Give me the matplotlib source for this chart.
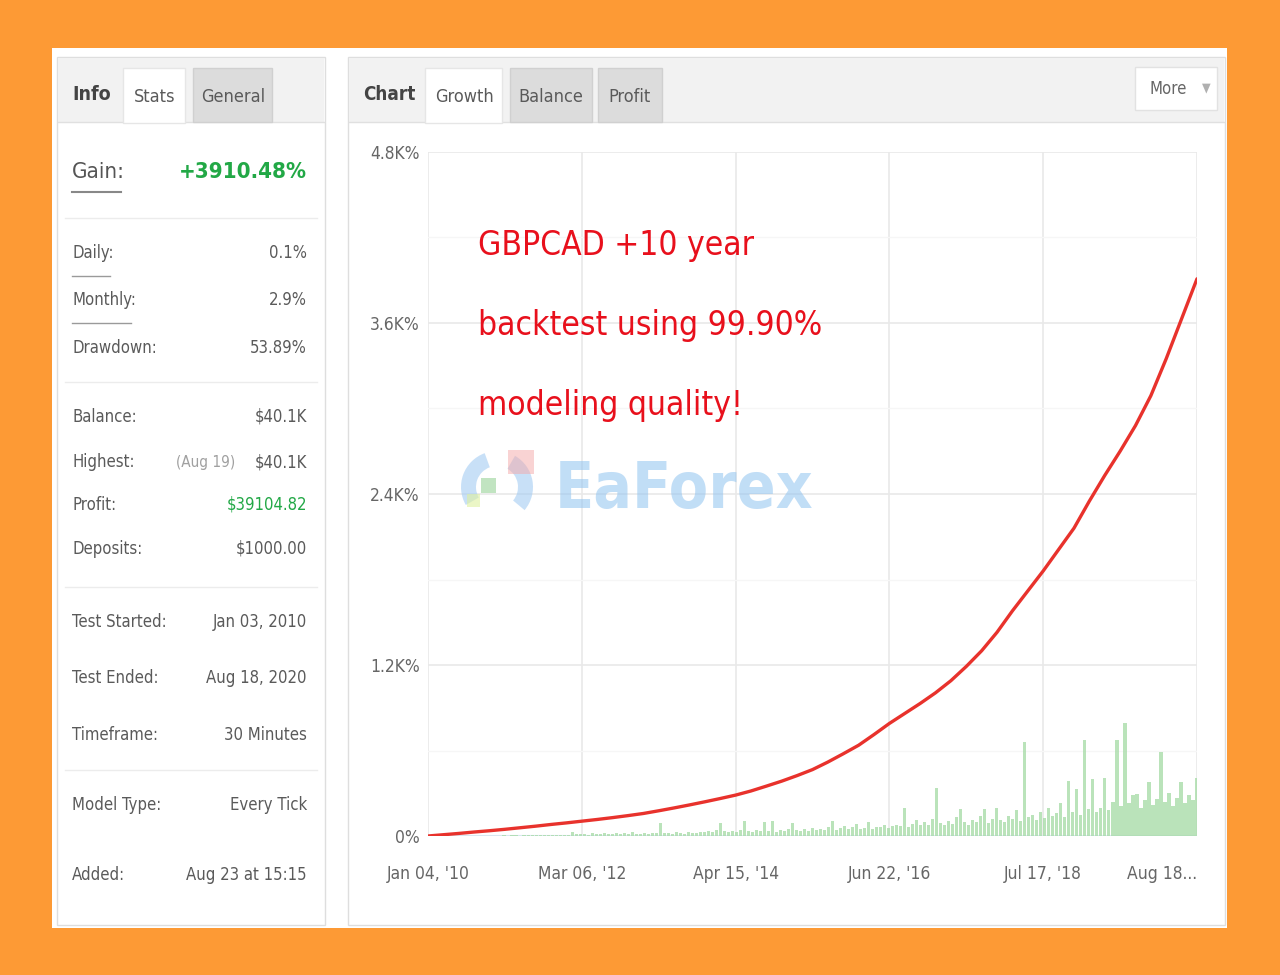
import matplotlib
matplotlib.use("Agg")
import matplotlib.pyplot as plt
import numpy as np
from matplotlib.patches import Rectangle, Wedge

plt.rcParams['font.family'] = ['DejaVu Sans']
plt.rcParams['font.stretch'] = 'condensed'

# data
date_labels = ["Jan 04, '10", "Mar 06, '12", "Apr 15, '14", "Jun 22, '16", "Jul 17, '18", "Aug 18..."]
y_ticks = [0, 1200, 2400, 3600, 4800]
y_labels = ["0%", "1.2K%", "2.4K%", "3.6K%", "4.8K%"]

# growth in %, sampled evenly from Jan 04 '10 to Aug 18 '20
growth = [0, 9, 18, 28, 37, 47, 58, 69, 81, 92,
          104, 116, 129, 143, 158, 177, 197, 218, 240, 263,
          287, 316, 350, 385, 424, 466, 519, 577, 637, 712,
          790, 860, 930, 1005, 1090, 1190, 1300, 1430, 1580, 1720,
          1860, 2010, 2160, 2350, 2530, 2700, 2880, 3090, 3350, 3630, 3910]

# daily profit bars (green), same scale
daily = [1, 1, 2, 1, 2, 1, 2, 2, 1, 2, 3, 2, 2, 3, 2,
         3, 4, 3, 5, 4, 3, 6, 4, 5, 8, 5, 4, 6, 5, 7, 6, 5, 9, 30, 12,
         12, 15, 10, 18, 14, 11, 20, 16, 13, 22, 15, 18, 12, 25, 17, 14, 20, 16, 22, 19,
         90, 18, 22, 15, 25, 20, 17, 28, 21, 24,
         30, 25, 35, 28, 40, 90, 32, 26, 38, 30, 45, 105, 35, 28, 42, 33, 100, 38, 105, 30,
         45, 36, 50, 90, 40, 32, 48, 38, 55, 42,
         50, 40, 60, 105, 45, 55, 70, 48, 62, 85, 50, 58, 95, 52, 65, 60, 75, 55, 68, 80,
         70, 200, 65, 85, 110, 75, 95, 80, 120, 340, 90, 75, 105, 85, 130, 190, 95, 80, 115, 100,
         140, 190, 90, 120, 200,
         110, 95, 140, 120, 180, 105, 660, 130, 150, 115, 170, 125, 200, 140, 160, 230, 135, 385,
         170, 330, 150, 675, 190, 400, 165,
         200, 410, 180, 240, 675, 210, 793, 230, 290, 295, 200, 250, 380, 220, 260, 590, 240, 300,
         210, 270, 380, 230, 290, 250, 410]

info_rows = [("Daily:", "0.1%", 253), ("Monthly:", "2.9%", 300), ("Drawdown:", "53.89%", 348),
             ("Balance:", "$40.1K", 417), ("Highest:", "$40.1K", 462), ("Profit:", "$39104.82", 505),
             ("Deposits:", "$1000.00", 549), ("Test Started:", "Jan 03, 2010", 622),
             ("Test Ended:", "Aug 18, 2020", 678), ("Timeframe:", "30 Minutes", 735),
             ("Model Type:", "Every Tick", 805), ("Added:", "Aug 23 at 15:15", 875)]

W, H = 1280, 975
fig = plt.figure(figsize=(W / 100, H / 100), dpi=100)
fig.patch.set_facecolor('#FD9A35')

# background in pixel coords
bg = fig.add_axes([0, 0, 1, 1])
bg.set_xlim(0, W)
bg.set_ylim(H, 0)
bg.axis('off')

def box(x0, y0, x1, y1, fc, ec='none', lw=1, z=1):
    bg.add_patch(Rectangle((x0, y0), x1 - x0, y1 - y0, facecolor=fc, edgecolor=ec, linewidth=lw, zorder=z))

gray_txt = '#5a5a5a'
box(52, 48, 1227, 928, 'white')
# left panel
box(57, 57, 325, 925, 'white', '#dedede')
box(58, 58, 324, 122, '#f2f2f2')
bg.plot([58, 324], [122, 122], color='#e0e0e0', lw=1, zorder=2)
bg.text(72, 95, "Info", fontsize=14, color='#444444', fontweight='bold', va='center', zorder=3)
box(123, 68, 185, 123, 'white', '#e6e6e6', z=2)
bg.text(155, 97, "Stats", fontsize=13, color=gray_txt, ha='center', va='center', zorder=3)
box(193, 68, 272, 122, '#dcdcdc', '#d0d0d0', z=2)
bg.text(233, 97, "General", fontsize=13, color=gray_txt, ha='center', va='center', zorder=3)

bg.text(72, 172, "Gain:", fontsize=16, color='#555555', va='center', zorder=3)
bg.plot([72, 121], [192, 192], color='#888888', lw=1.5, zorder=3)
bg.text(307, 172, "+3910.48%", fontsize=16, color='#22a846', fontweight='bold', ha='right', va='center', zorder=3)

for yy in [218, 382, 587, 770]:
    bg.plot([65, 317], [yy, yy], color='#ececec', lw=1, zorder=2)
for yy, x1 in [(276, 110), (323, 131)]:
    bg.plot([72, x1], [yy, yy], color='#9a9a9a', lw=1, zorder=3)

for lab, val, yy in info_rows:
    bg.text(72, yy, lab, fontsize=12, color=gray_txt, va='center', zorder=3)
    col = '#22a846' if lab == "Profit:" else gray_txt
    bg.text(307, yy, val, fontsize=12, color=col, ha='right', va='center', zorder=3)
    if lab == "Highest:":
        bg.text(235, yy, "(Aug 19)", fontsize=11, color='#a0a0a0', ha='right', va='center', zorder=3)

# right panel
box(348, 57, 1225, 925, 'white', '#dedede')
box(349, 58, 1224, 122, '#f2f2f2')
bg.plot([349, 1224], [122, 122], color='#e0e0e0', lw=1, zorder=2)
bg.text(363, 95, "Chart", fontsize=13.5, color='#444444', fontweight='bold', va='center', zorder=3)
box(425, 68, 502, 123, 'white', '#e6e6e6', z=2)
bg.text(464, 97, "Growth", fontsize=13, color=gray_txt, ha='center', va='center', zorder=3)
box(510, 68, 592, 122, '#dcdcdc', '#d0d0d0', z=2)
bg.text(551, 97, "Balance", fontsize=13, color=gray_txt, ha='center', va='center', zorder=3)
box(598, 68, 662, 122, '#dcdcdc', '#d0d0d0', z=2)
bg.text(630, 97, "Profit", fontsize=13, color=gray_txt, ha='center', va='center', zorder=3)
box(1135, 67, 1217, 110, 'white', '#e2e2e2', z=2)
bg.text(1168, 89, "More", fontsize=12, color='#666666', ha='center', va='center', zorder=3)
bg.text(1206, 88, "\u25bc", fontsize=9, color='#b0b0b0', ha='center', va='center', zorder=3)

# chart
ax = fig.add_axes([428 / W, 1 - 836 / H, 769 / W, 684 / H])
ax.set_facecolor('none')
ax.set_xlim(0, 5)
ax.set_ylim(0, 4800)
for s in ax.spines.values():
    s.set_visible(False)

xb = np.linspace(12 / 153.8, 5, len(daily))
ax.bar(xb, daily, width=0.021, color='#a9dca9', alpha=0.8, linewidth=0, zorder=2)
ax.axhline(0, color='#d8e6f0', lw=1.5, zorder=1)
xg = np.linspace(0, 5, len(growth))
ax.plot(xg, growth, color='#e8322c', lw=2.4, zorder=4, solid_capstyle='round')

ax.set_xticks(range(len(date_labels)))
ax.set_xticklabels(date_labels)
ax.get_xticklabels()[-1].set_ha('right')
ax.set_yticks(y_ticks)
ax.set_yticklabels(y_labels)
ax.set_yticks([600, 1800, 3000, 4200], minor=True)
ax.tick_params(axis='both', which='both', length=0, labelsize=12.5, labelcolor='#666666')
ax.tick_params(axis='x', pad=21)
ax.tick_params(axis='y', pad=6)
ax.grid(True, which='major', color='#e9e9e9', lw=1.2, zorder=0)
ax.grid(True, which='minor', axis='y', color='#f6f6f6', lw=1, zorder=0)
ax.set_axisbelow(True)

# overlay: annotation and watermark
ov = fig.add_axes([0, 0, 1, 1])
ov.set_xlim(0, W)
ov.set_ylim(H, 0)
ov.axis('off')
ov.patch.set_alpha(0)
for txt, yy in [("GBPCAD +10 year", 245), ("backtest using 99.90%", 325), ("modeling quality!", 405)]:
    ov.text(478, yy, txt, fontsize=24, color='#e8101c', va='center')
ov.text(555, 490, "EaForex", fontsize=46, color='#8fc3f0', alpha=0.55, fontweight='bold', va='center')
ov.add_patch(Wedge((497, 487), 36, 150, 250, width=15, facecolor='#9cc8f2', alpha=0.55, lw=0))
ov.add_patch(Wedge((497, 487), 36, 300, 40, width=15, facecolor='#9cc8f2', alpha=0.55, lw=0))
ov.add_patch(Rectangle((508, 450), 26, 24, facecolor='#f4a8a8', alpha=0.5, lw=0))
ov.add_patch(Rectangle((481, 478), 15, 15, facecolor='#8fcf8f', alpha=0.55, lw=0))
ov.add_patch(Rectangle((467, 494), 13, 13, facecolor='#dff0a0', alpha=0.6, lw=0))

fig.savefig("out.png", dpi=100, facecolor=fig.get_facecolor())
